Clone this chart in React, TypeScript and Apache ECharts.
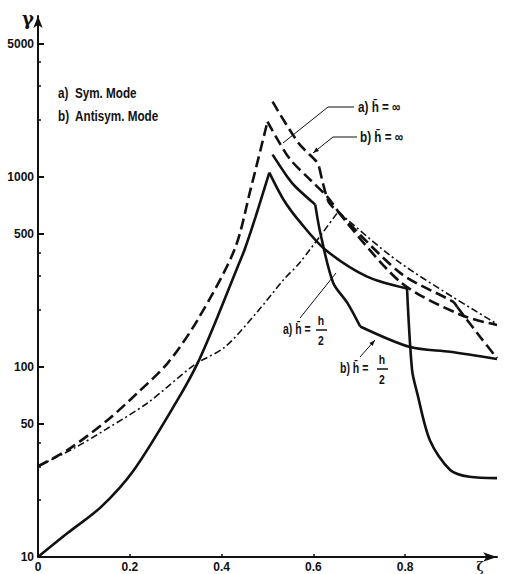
import React, { useEffect, useRef } from 'react';
import * as echarts from 'echarts';

// Y axis (log) labelled values and minor tick values
const yLabelValues = [10, 50, 100, 500, 1000, 5000];
const yMinorTickValues = [20, 30, 40, 200, 300, 400, 2000, 3000, 4000];

// a) h̄ = ∞  (dashed, symmetric mode, incl. common left branch)
const dashedSym: [number, number][] = [
  [0, 30], [0.065, 36.6], [0.152, 52.6], [0.217, 73], [0.283, 105], [0.348, 177],
  [0.428, 413], [0.463, 855], [0.5, 1950], [0.522, 1566], [0.55, 1228], [0.593, 964],
  [0.63, 785], [0.654, 655], [0.789, 280], [0.92, 188], [1.0, 166],
];
const dashedSymCorners = [0.5, 0.654];

// b) h̄ = ∞  (dashed, antisymmetric mode)
const dashedAnti: [number, number][] = [
  [0.511, 2480], [0.567, 1510], [0.607, 1199], [0.613, 1114], [0.633, 738], [0.654, 655],
  [0.789, 312], [0.904, 220], [0.913, 207], [0.963, 144], [1.0, 111],
];
const dashedAntiCorners = [0.613, 0.654, 0.913];

// a) h̄ = h/2  (solid, symmetric mode, incl. common left branch)
const solidSym: [number, number][] = [
  [0, 10], [0.065, 13.4], [0.137, 18.3], [0.209, 28.7], [0.304, 67],
  [0.348, 105], [0.391, 183], [0.435, 336], [0.45, 413], [0.474, 615], [0.504, 1050],
  [0.535, 757], [0.572, 573], [0.626, 413], [0.717, 298], [0.804, 258], [0.815, 96],
  [0.826, 73], [0.854, 41], [0.898, 28.7], [0.94, 26.4], [1.0, 26],
];
const solidSymCorners = [0.504, 0.804];

// b) h̄ = h/2  (solid, antisymmetric mode)
const solidAnti: [number, number][] = [
  [0.511, 1306], [0.543, 1000], [0.561, 885], [0.604, 713], [0.615, 507], [0.643, 277],
  [0.674, 217], [0.702, 163], [0.811, 127], [0.898, 120], [1.0, 110],
];
const solidAntiCorners = [0.604, 0.702];

// dash-dot reference curve
const dashDot: [number, number][] = [
  [0, 30], [0.08, 37.5], [0.146, 46.6], [0.239, 64.7], [0.341, 102.6], [0.407, 127],
  [0.478, 195], [0.535, 287], [0.572, 357], [0.654, 655], [0.789, 352], [1.0, 168],
];
const dashDotCorners = [0.654];

const FONT = '"Liberation Sans", Arial, sans-serif';
const INK = '#111';

// split a curve into smooth pieces at its sharp corners (corner point shared by both pieces)
function splitAtCorners(data: [number, number][], corners: number[]) {
  const pieces: [number, number][][] = [];
  let cur: [number, number][] = [];
  data.forEach((p) => {
    cur.push(p);
    if (corners.includes(p[0])) {
      pieces.push(cur);
      cur = [p];
    }
  });
  if (cur.length > 1) pieces.push(cur);
  return pieces;
}

function arrowHead(fx: number, fy: number, tx: number, ty: number, len = 6, half = 2.2) {
  const dx = tx - fx;
  const dy = ty - fy;
  const d = Math.hypot(dx, dy);
  const ux = dx / d;
  const uy = dy / d;
  const bx = tx - ux * len;
  const by = ty - uy * len;
  return {
    type: 'polygon',
    shape: { points: [[tx, ty], [bx - uy * half, by + ux * half], [bx + uy * half, by - ux * half]] },
    style: { fill: INK },
  };
}

function txt(x: number, y: number, text: string, size = 13, align = 'left', sx = 0.8, family = FONT) {
  return {
    type: 'text',
    x,
    y,
    scaleX: sx,
    style: { text, fill: INK, fontSize: size, fontWeight: 'bold', fontFamily: family, align, verticalAlign: 'middle' },
  };
}

function seg(points: number[][], w = 1) {
  return { type: 'polyline', shape: { points }, style: { stroke: INK, lineWidth: w, fill: null } };
}

export default function App() {
  const ref = useRef<HTMLDivElement>(null);
  useEffect(() => {
    const chart = echarts.init(ref.current!, null, { renderer: 'svg' });
    const curve = (name: string, data: [number, number][], corners: number[], type: any, width: number) =>
      splitAtCorners(data, corners).map((piece, i) => ({
        name,
        id: `${name}-${i}`,
        type: 'line',
        data: piece,
        showSymbol: false,
        symbol: 'none',
        smooth: 0.3,
        lineStyle: { color: INK, width, type, cap: 'butt' },
        silent: true,
      }));
    const labelStyle = { color: INK, fontSize: 12, fontWeight: 'bold', fontFamily: FONT, margin: 4 };
    const option: any = {
      animation: false,
      backgroundColor: '#fff',
      grid: { left: 38, right: 12, top: 16, bottom: 17, containLabel: false },
      xAxis: {
        type: 'value',
        min: 0,
        max: 1,
        interval: 0.2,
        axisLine: { show: true, onZero: false, symbol: ['none', 'arrow'], symbolSize: [7, 14], lineStyle: { color: INK, width: 2 } },
        axisTick: { show: true, inside: true, length: 3, lineStyle: { color: INK, width: 1.5 } },
        axisLabel: { ...labelStyle, showMaxLabel: false },
        splitLine: { show: false },
      },
      yAxis: [
        {
          type: 'log',
          logBase: 10,
          min: 10,
          max: 7000,
          position: 'left',
          axisLine: { show: true, onZero: false, symbol: ['none', 'arrow'], symbolSize: [7, 12], lineStyle: { color: INK, width: 2 } },
          axisTick: { show: true, inside: true, length: 6, customValues: yLabelValues, lineStyle: { color: INK, width: 2 } },
          axisLabel: { ...labelStyle, customValues: yLabelValues, formatter: (v: number) => String(v) },
          splitLine: { show: false },
        },
        {
          type: 'log',
          logBase: 10,
          min: 10,
          max: 7000,
          position: 'left',
          axisLine: { show: false },
          axisTick: { show: true, inside: true, length: 3, customValues: yMinorTickValues, lineStyle: { color: INK, width: 1.5 } },
          axisLabel: { show: false },
          splitLine: { show: false },
        },
      ],
      series: [
        ...curve('dash-dot', dashDot, dashDotCorners, [7, 3, 2, 3], 1.6),
        ...curve('a) h̄ = ∞', dashedSym, dashedSymCorners, [11, 5], 2.6),
        ...curve('b) h̄ = ∞', dashedAnti, dashedAntiCorners, [11, 5], 2.6),
        ...curve('a) h̄ = h/2', solidSym, solidSymCorners, 'solid', 2.6),
        ...curve('b) h̄ = h/2', solidAnti, solidAntiCorners, 'solid', 2.6),
      ],
      graphic: [
        // axis titles
        txt(28, 18, 'γ', 18, 'center', 1, '"DejaVu Serif", serif'),
        { type: 'text', x: 480, y: 561, style: { text: 'ζ', fill: INK, fontSize: 12, fontWeight: 'bold', fontFamily: '"DejaVu Serif", serif', align: 'center', verticalAlign: 'top' } },
        // mode legend
        txt(58, 93, 'a)  Sym. Mode', 15, 'left', 0.78),
        txt(58, 116, 'b)  Antisym. Mode', 15, 'left', 0.78),
        // a) h̄ = ∞
        txt(358, 107, 'a) h\u0304 = ∞', 15, 'left', 0.78),
        seg([[354, 107], [328, 107], [283, 143]]),
        // b) h̄ = ∞
        txt(360, 137, 'b) h\u0304 = ∞', 15, 'left', 0.78),
        seg([[357, 137], [333, 137], [313, 153]]),
        arrowHead(333, 137, 313, 153),
        // a) h̄ = h/2
        txt(283, 329, 'a) h\u0304 =', 14, 'left', 0.75),
        txt(321, 320, 'h', 13, 'center'),
        seg([[316, 330], [327, 330]], 1.5),
        txt(321, 340, '2', 13, 'center'),
        seg([[300, 318], [336, 273]]),
        // b) h̄ = h/2
        txt(340, 368, 'b) h\u0304 =', 14, 'left', 0.75),
        txt(382, 359, 'h', 13, 'center'),
        seg([[377, 369], [388, 369]], 1.5),
        txt(382, 379, '2', 13, 'center'),
        seg([[360, 357], [375, 340]]),
        arrowHead(360, 357, 375, 340),
      ],
    };
    chart.setOption(option);
    return () => chart.dispose();
  }, []);
  return <div ref={ref} style={{ position: 'fixed', left: 0, top: 0, width: 509, height: 574, background: '#fff' }} />;
}
